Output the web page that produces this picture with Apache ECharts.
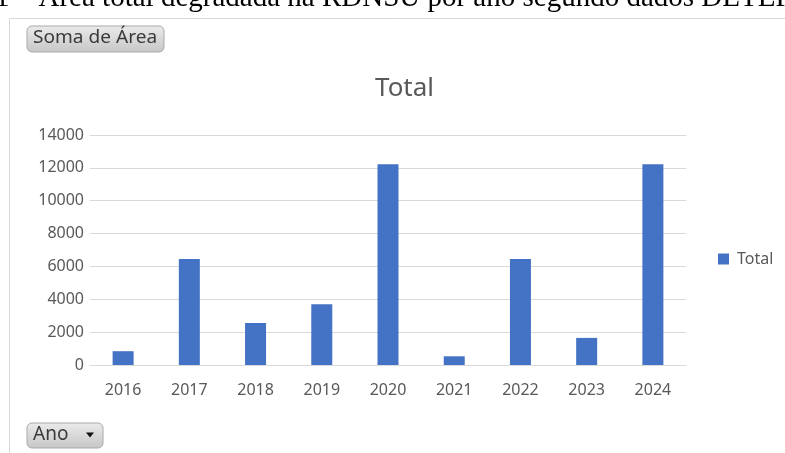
<!DOCTYPE html>
<html>
<head>
<meta charset="utf-8">
<script src="https://cdn.jsdelivr.net/npm/echarts@6/dist/echarts.min.js"></script>
<style>
  html, body { margin: 0; padding: 0; background: #fff; }
  #chart { width: 785px; height: 453px; }
</style>
</head>
<body>
<div id="chart"></div>
<script>
// dados
const anos = ['2016', '2017', '2018', '2019', '2020', '2021', '2022', '2023', '2024']
const total = [840, 6450, 2560, 3700, 12220, 530, 6450, 1650, 12220]
const yTicks = [0, 2000, 4000, 6000, 8000, 10000, 12000, 14000]

const txt = '#595959'
const font = 'Noto Sans'

const chart = echarts.init(document.getElementById('chart'))

// botão cinza tipo tabela dinâmica
const botao = (x, y, w, h, label, size, sx, seta) => {
  const children = [{
    type: 'rect',
    shape: { x: 0, y: 0, width: w, height: h, r: 5 },
    style: {
      fill: new echarts.graphic.LinearGradient(0, 0, 0, 1, [
        { offset: 0, color: '#ebebeb' },
        { offset: 1, color: '#c6c6c6' }
      ]),
      stroke: '#a9a9a9',
      lineWidth: 1
    }
  }, {
    type: 'text',
    x: 6, y: h / 2 - 1, scaleX: sx,
    style: {
      x: 0, y: 0, text: label, fill: '#3a3a3a',
      font: size + 'px "Noto Sans"', verticalAlign: 'middle', align: 'left'
    }
  }]
  if (seta) {
    children.push({
      type: 'polygon',
      shape: { points: [[w - 17, h / 2 - 3], [w - 9, h / 2 - 3], [w - 13, h / 2 + 2]] },
      style: { fill: '#111' }
    })
  }
  return { type: 'group', x: x, y: y, children: children }
}

chart.setOption({
  animation: false,
  title: {
    text: 'Total',
    left: 370,
    top: 71,
    textStyle: { color: txt, fontFamily: font, fontSize: 26, fontWeight: 'normal' }
  },
  legend: {
    data: ['Total'],
    left: 713,
    top: 246,
    icon: 'rect',
    itemWidth: 11,
    itemHeight: 11,
    textStyle: { color: txt, fontFamily: font, fontSize: 16, padding: [0, 0, 0, 3] }
  },
  grid: { left: 90, right: 99, top: 135, bottom: 88 },
  xAxis: {
    type: 'category',
    data: anos,
    axisTick: { show: false },
    axisLine: { lineStyle: { color: '#d9d9d9', width: 1 } },
    axisLabel: { color: txt, fontFamily: font, fontSize: 16, margin: 17 }
  },
  yAxis: {
    type: 'value',
    min: yTicks[0],
    max: yTicks[yTicks.length - 1],
    interval: yTicks[1] - yTicks[0],
    axisLine: { show: false },
    axisTick: { show: false },
    axisLabel: { color: txt, fontFamily: font, fontSize: 16, margin: 6, formatter: v => String(v) },
    splitLine: { lineStyle: { color: '#d9d9d9', width: 1 } }
  },
  series: [{
    type: 'bar',
    name: 'Total',
    data: total,
    barWidth: 21,
    itemStyle: { color: '#4472c4' }
  }],
  graphic: [
    {
      type: 'text',
      style: {
        x: -5, y: -2,
        text: '1 – Área total degradada na RDNSU por ano segundo dados DETER',
        font: '29px "Liberation Serif"', fill: '#000', verticalAlign: 'middle'
      }
    },
    {
      type: 'rect',
      shape: { x: 9.5, y: 18.5, width: 800, height: 460 },
      style: { fill: 'none', stroke: '#d9d9d9', lineWidth: 1 }
    },
    botao(27, 26, 137, 26, 'Soma de Área', 18, 1.06, false),
    botao(27, 423, 76, 25, 'Ano', 19, 1.0, true)
  ]
})
</script>
</body>
</html>
